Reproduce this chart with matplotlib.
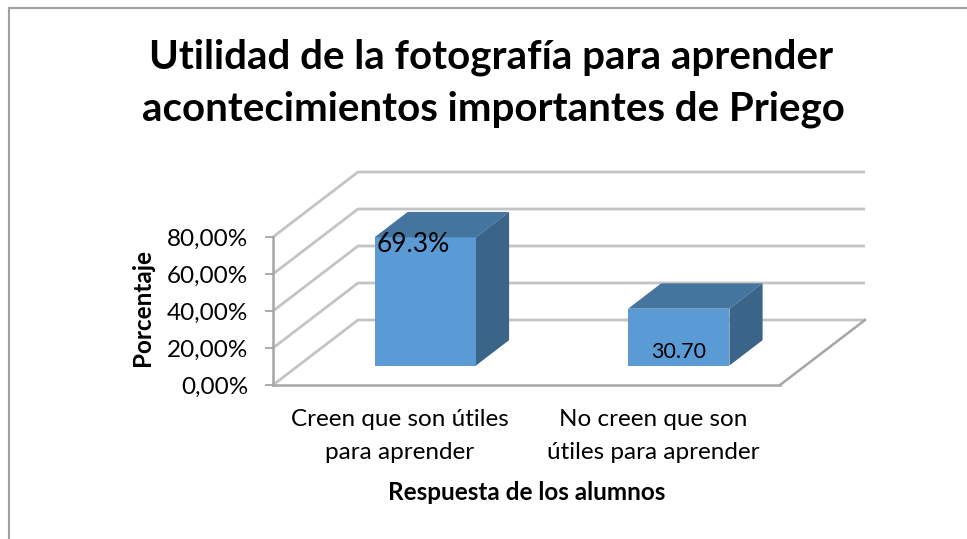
import numpy as np
import matplotlib.pyplot as plt
from matplotlib.patches import Polygon

plt.rcParams['font.family'] = ['Lato', 'DejaVu Sans']

# data
categories = ['Creen que son útiles\npara aprender', 'No creen que son\nútiles para aprender']
values = [69.3, 30.7]
value_labels = ['69.3%', '30.70']
y_ticks = [0, 20, 40, 60, 80]
y_tick_labels = ['0,00%', '20,00%', '40,00%', '60,00%', '80,00%']
title_lines = ['Utilidad de la fotografía para aprender',
               'acontecimientos importantes de Priego']
x_title = 'Respuesta de los alumnos'
y_title = 'Porcentaje'

W, H = 967, 539
px_cat = 253.5      # pixels per category
px_pct = 1.85       # pixels per percent
ddx = 85 / px_cat   # full depth offset, in category units
ddy = 65 / px_pct   # full depth offset, in percent units
f0, f1 = 0.30, 0.69 # bar depth span (fraction of full depth)
bar_w = 0.4

front = '#5b9bd5'
top_c = '#44759f'
side_c = '#3b6489'
grid_c = '#c4c4c4'
axis_c = '#a6a6a6'

fig = plt.figure(figsize=(W / 100, H / 100), dpi=100)

# chart border (clipped on right and bottom like the screenshot)
fig.add_artist(plt.Line2D([9 / W, 1], [1 - 8 / H, 1 - 8 / H], color='#a0a0a0', lw=1.5))
fig.add_artist(plt.Line2D([9 / W, 9 / W], [0, 1 - 8 / H], color='#a0a0a0', lw=1.5))

x_max, y_max = 2.36, 118
ax = fig.add_axes([273 / W, (H - 385) / H, x_max * px_cat / W, y_max * px_pct / H])
ax.set_xlim(0, x_max)
ax.set_ylim(0, y_max)
for s in ax.spines.values():
    s.set_visible(False)

n = len(categories)

# walls / gridlines
for t in y_ticks:
    ax.plot([0, ddx, n + ddx], [t, t + ddy, t + ddy], color=grid_c, lw=2,
            solid_capstyle='butt', clip_on=False, zorder=1)
ax.plot([n, n + ddx], [0, ddy], color=axis_c, lw=1.8, clip_on=False, zorder=2)
ax.plot([0, n], [0, 0], color=axis_c, lw=1.8, clip_on=False, zorder=2)
ax.plot([0, 0], [0, y_ticks[-1]], color=axis_c, lw=1.8, clip_on=False, zorder=2)

# 3d-looking columns
dxb = (f1 - f0) * ddx
dyb = (f1 - f0) * ddy
base = f0 * ddy
lefts = [i + (1 - bar_w) / 2 + f0 * ddx for i in range(n)]
ax.bar(lefts, values, width=bar_w, bottom=base, align='edge', color=front,
       edgecolor='none', zorder=3)
for x0, v in zip(lefts, values):
    yt = base + v
    ax.add_patch(Polygon([(x0, yt), (x0 + bar_w, yt), (x0 + bar_w + dxb, yt + dyb),
                          (x0 + dxb, yt + dyb)], closed=True, fc=top_c, ec='none', zorder=3))
    ax.add_patch(Polygon([(x0 + bar_w, base), (x0 + bar_w + dxb, base + dyb),
                          (x0 + bar_w + dxb, yt + dyb), (x0 + bar_w, yt)], closed=True,
                         fc=side_c, ec='none', zorder=3))

# data labels
ax.annotate(value_labels[0], (lefts[0], base + values[0]), xytext=(2, -15),
            textcoords='offset pixels', ha='left', va='baseline', fontsize=19, zorder=5)
ax.annotate(value_labels[1], (lefts[1] + bar_w / 2, base), xytext=(0, 7),
            textcoords='offset pixels', ha='center', va='baseline', fontsize=15.5, zorder=5)

# axes ticks
ax.set_yticks(y_ticks)
ax.set_yticklabels(y_tick_labels, fontsize=17.5)
ax.tick_params(axis='y', length=6, width=1.3, color=axis_c, pad=12)
ax.set_xticks([i + 0.5 for i in range(n)])
ax.set_xticklabels(categories, fontsize=17.5)
ax.tick_params(axis='x', length=0, pad=17)
for lab in ax.get_xticklabels():
    lab.set_linespacing(1.7)

fig.text(491 / W, 1 - 68 / H, title_lines[0], ha='center', va='baseline',
         fontsize=29, fontweight='bold')
fig.text(493 / W, 1 - 120 / H, title_lines[1], ha='center', va='baseline',
         fontsize=29, fontweight='bold')
fig.text(527 / W, 1 - 492 / H, x_title, ha='center', va='center', fontsize=17.5,
         fontweight='bold')
fig.text(143 / W, 1 - 308 / H, y_title, ha='center', va='center', fontsize=17.5,
         fontweight='bold', rotation=90)

fig.savefig('out.png', dpi=100)
